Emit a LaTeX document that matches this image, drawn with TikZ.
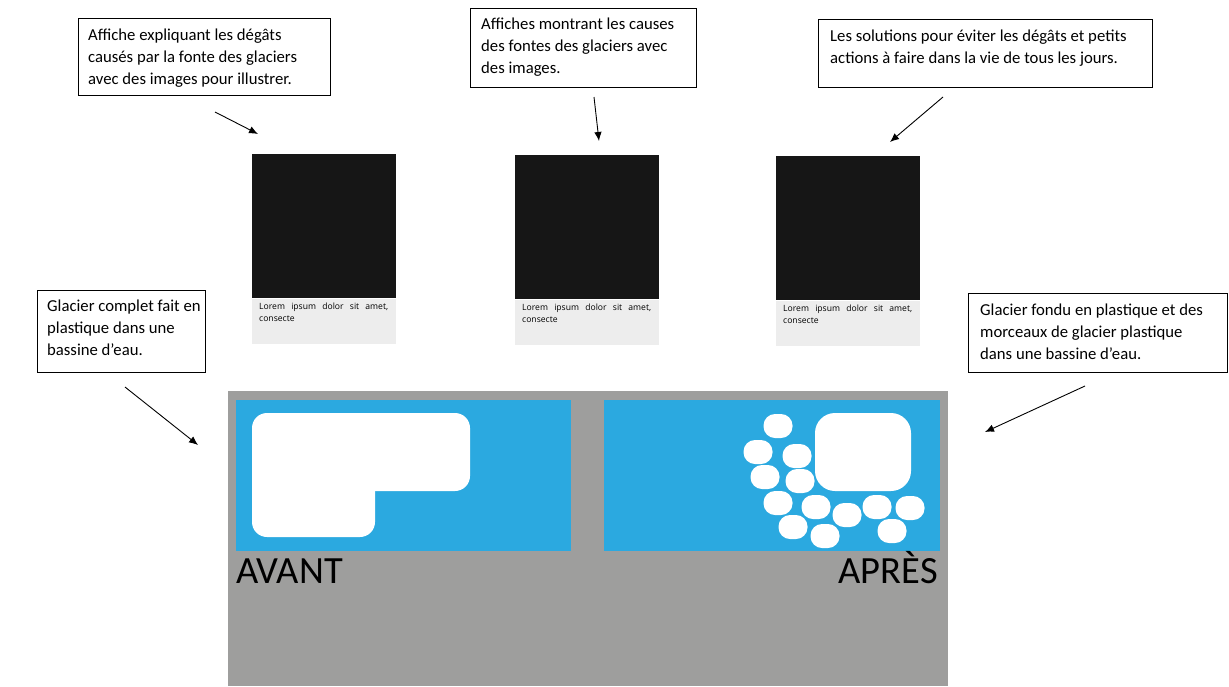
\documentclass[tikz,border=0pt]{standalone}
\usepackage{fontspec}
\setmainfont{Carlito}
\newfontfamily\capfont{Open Sans}
\usetikzlibrary{arrows.meta}
\definecolor{basegray}{RGB}{158,158,157}
\definecolor{water}{RGB}{43,169,224}
\definecolor{posterdark}{RGB}{22,22,22}
\definecolor{captionbg}{RGB}{237,237,237}
\tikzset{
  callout/.style={draw=black, line width=0.8pt, fill=white, inner sep=0pt, anchor=north west},
  callouttext/.style={anchor=north west, inner sep=0pt, align=left, font=\fontsize{16.7}{22}\selectfont},
  pointer/.style={draw=black, line width=0.9pt, -{Latex[length=9pt,width=7.5pt]}},
  poster/.style={fill=posterdark, draw=none, inner sep=0pt, minimum width=144pt, minimum height=144pt, anchor=north west},
  caption/.style={fill=captionbg, draw=none, inner sep=0pt, minimum width=144pt, minimum height=45pt, anchor=north west},
  captiontext/.style={anchor=north west, inner sep=0pt, align=left, font=\capfont\fontsize{8.6}{12}\selectfont},
  blob/.style={fill=white, draw=none, rounded corners=11.5pt, minimum width=29pt, minimum height=24pt, inner sep=0pt},
  bigword/.style={inner sep=0pt, font=\fontsize{38.5}{40}\selectfont, text=black},
}
\begin{document}
\begin{tikzpicture}[x=1pt,y=-1pt]
\useasboundingbox (0,0) rectangle (1229,686);
\fill[white] (0,0) rectangle (1229,686);

% callouts
\node[callout, minimum width=252pt, minimum height=77pt] (c1) at (78,18) {};
\node[callouttext] (t1) at ([shift={(10pt,-6.5pt)}]c1.north west) {\strut Affiche expliquant les dégâts\\causés par la fonte des glaciers\\avec des images pour illustrer.};
\node[callout, minimum width=226pt, minimum height=79pt] (c2) at (470,8) {};
\node[callouttext] (t2) at ([shift={(11pt,-6pt)}]c2.north west) {\strut Affiches montrant les causes\\des fontes des glaciers avec\\des images.};
\node[callout, minimum width=334pt, minimum height=68pt] (c3) at (818,19) {};
\node[callouttext] (t3) at ([shift={(12pt,-7pt)}]c3.north west) {\strut Les solutions pour éviter les dégâts et petits\\actions à faire dans la vie de tous les jours.};
\node[callout, minimum width=168pt, minimum height=82pt] (c4) at (37,290) {};
\node[callouttext] (t4) at ([shift={(10pt,-6pt)}]c4.north west) {\strut Glacier complet fait en\\plastique dans une\\bassine d’eau.};
\node[callout, minimum width=259pt, minimum height=79pt] (c5) at (968,293) {};
\node[callouttext] (t5) at ([shift={(12pt,-7pt)}]c5.north west) {\strut Glacier fondu en plastique et des\\morceaux de glacier plastique\\dans une bassine d’eau.};

% arrows
\coordinate (a1s) at (215,112); \coordinate (a1e) at (258,134);
\coordinate (a2s) at (594,97);  \coordinate (a2e) at (599,141);
\coordinate (a3s) at (943,97);  \coordinate (a3e) at (890,142);
\coordinate (a4s) at (125,387); \coordinate (a4e) at (198,445);
\coordinate (a5s) at (1085,386);\coordinate (a5e) at (985,432);
\draw[pointer] (a1s) -- (a1e);
\draw[pointer] (a2s) -- (a2e);
\draw[pointer] (a3s) -- (a3e);
\draw[pointer] (a4s) -- (a4e);
\draw[pointer] (a5s) -- (a5e);

% posters
\foreach \n/\x/\y in {1/252/154, 2/515/155, 3/776/156}{
  \node[poster] (p\n) at (\x,\y) {};
  \node[caption] (k\n) at (p\n.south west) {};
  \node[captiontext] (ct\n) at ([shift={(7pt,-2pt)}]k\n.north west) {\strut\makebox[129pt][s]{Lorem ipsum dolor sit amet,}\\consecte};
}

% basin
\fill[basegray] (228,391) rectangle (948,686);
\fill[water] (236,400) rectangle (571,551);
\fill[water] (604,400) rectangle (940,551);

% avant glacier
\fill[white, rounded corners=15pt] (252,413) rectangle (375,537);
\fill[white, rounded corners=15pt] (340,413) rectangle (470,491);

% apres glacier
\fill[white, rounded corners=20pt] (815,413) rectangle (911,491);
\foreach \n/\x/\y in {1/778/426, 2/758/452, 3/797/456, 4/765/477, 5/800/481, 6/778/503, 7/816/507, 8/793/527, 9/847/515, 10/825/536, 11/877/507, 12/910/508, 13/892/531}{
  \node[blob] (b\n) at (\x,\y) {};
}

\node[bigword, anchor=base west] (avant) at (236,583) {AVANT};
\node[bigword, anchor=base east] (apres) at (938,583) {APRÈS};
\end{tikzpicture}
\end{document}
